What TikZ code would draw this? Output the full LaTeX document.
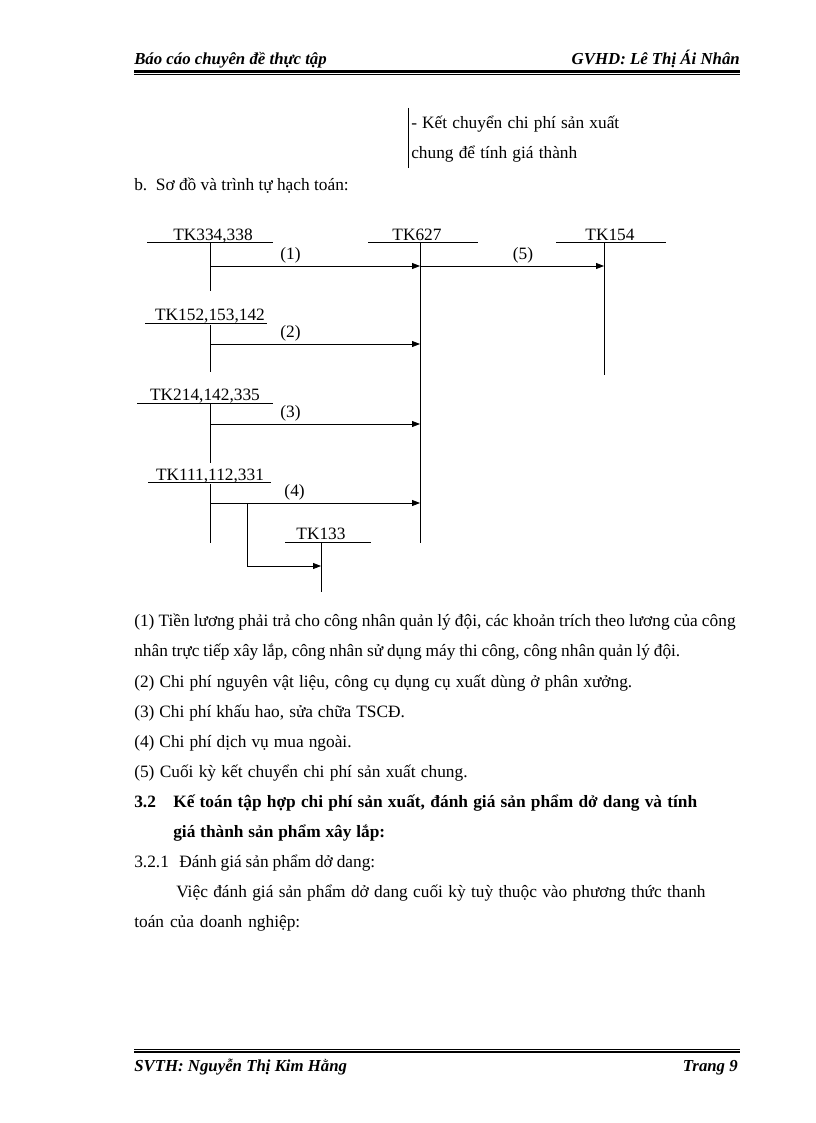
\documentclass[tikz,border=0pt]{standalone}
\usepackage{fontspec}
\setmainfont{Liberation Serif}
\usetikzlibrary{arrows.meta}
\newcommand{\fitw}[2]{\makebox[#1][s]{#2}}
\begin{document}
\begin{tikzpicture}[x=0.75pt,y=-0.75pt,
  font=\fontsize{13}{15}\selectfont,
  ln/.style={line width=0.6pt},
  arr/.style={line width=0.6pt,-{Triangle[length=6pt,width=4.5pt]}},
  txt/.style={anchor=base west,inner sep=0pt},
  lbl/.style={anchor=base,inner sep=0pt},
  num/.style={above=2pt,inner sep=0pt},
  hdr/.style={anchor=base west,inner sep=0pt,font=\fontsize{12.6}{14}\selectfont\bfseries\itshape},
  bld/.style={anchor=base west,inner sep=0pt,font=\fontsize{13}{15}\selectfont\bfseries}]
\useasboundingbox (0,0) rectangle (816,1123);
\fill[white] (0,0) rectangle (816,1123);
% header
\node[hdr] (h1) at (134,65) {Báo cáo chuyên đề thực tập};
\node[hdr,anchor=base east] (h2) at (740,65) {GVHD: Lê Thị Ái Nhân};
\draw[line width=1.6pt] (134,71.5) -- (740,71.5);
\draw[line width=0.5pt] (134,74.5) -- (740,74.5);
% footer
\draw[line width=0.5pt] (134,1049.5) -- (740,1049.5);
\draw[line width=1.6pt] (134,1052.2) -- (740,1052.2);
\node[hdr] (f1) at (134,1071) {SVTH: Nguyễn Thị Kim Hằng};
\node[hdr,anchor=base east] (f2) at (738,1071) {Trang 9};
% top fragment
\draw[ln] (408,108) -- (408,168);
\node[txt] (t1) at (411,129) {\fitw{156pt}{- Kết chuyển chi phí sản xuất}};
\node[txt] (t2) at (411,159) {\fitw{124.5pt}{chung để tính giá thành}};
\node[txt] (t3) at (134,191) {b.\ \ Sơ đồ và trình tự hạch toán:};
% T-accounts
\node[lbl] (n334) at (213,240) {TK334,338};
\draw[ln] (147,242) -- (273,242);
\draw[ln] (210,243) -- (210,291);
\node[lbl] (n627) at (417,240) {TK627};
\draw[ln] (368,242) -- (478,242);
\draw[ln] (420,243) -- (420,543);
\node[lbl] (n154) at (610,240) {TK154};
\draw[ln] (556,242) -- (666,242);
\draw[ln] (604,243) -- (604,375);
\node[lbl] (n152) at (210,320) {TK152,153,142};
\draw[ln] (145,323) -- (267,323);
\draw[ln] (210,325) -- (210,372);
\node[lbl] (n214) at (205,400) {TK214,142,335};
\draw[ln] (137,403) -- (273,403);
\draw[ln] (210,404) -- (210,463);
\node[lbl] (n111) at (210,480) {TK111,112,331};
\draw[ln] (148,482) -- (271,482);
\draw[ln] (210,484) -- (210,543);
\node[lbl] (n133) at (321,539) {TK133};
\draw[ln] (285,542) -- (371,542);
\draw[ln] (321,543) -- (321,592);
% connector coordinates
\coordinate (a1s) at (211,266);
\coordinate (a1e) at (420,266);
\coordinate (a5e) at (604,266);
\coordinate (a2s) at (211,344);
\coordinate (a2e) at (420,344);
\coordinate (a3s) at (211,424);
\coordinate (a3e) at (420,424);
\coordinate (a4s) at (211,503);
\coordinate (a4e) at (420,503);
\coordinate (b1) at (247,503);
\coordinate (b2) at (247,566);
\coordinate (b3) at (321,566);
% connectors
\draw[arr] (a1s) -- node[num,pos=0.38] (l1) {(1)} (a1e);
\draw[arr] (a1e) -- node[num,pos=0.56] (l5) {(5)} (a5e);
\draw[arr] (a2s) -- node[num,pos=0.38] (l2) {(2)} (a2e);
\draw[arr] (a3s) -- node[num,pos=0.38] (l3) {(3)} (a3e);
\draw[arr] (a4s) -- node[num,pos=0.40] (l4) {(4)} (a4e);
\draw[ln] (b1) -- (b2);
\draw[arr] (b2) -- (b3);
% explanations
\node[txt] (e1) at (134,626) {\fitw{451pt}{(1) Tiền lương phải trả cho công nhân quản lý đội, các khoản trích theo lương của công}};
\node[txt] (e2) at (134,656) {\fitw{409.5pt}{nhân trực tiếp xây lắp, công nhân sử dụng máy thi công, công nhân quản lý đội.}};
\node[txt] (e3) at (134,687) {\fitw{373.5pt}{(2) Chi phí nguyên vật liệu, công cụ dụng cụ xuất dùng ở phân xưởng.}};
\node[txt] (e4) at (134,717) {\fitw{203pt}{(3) Chi phí khấu hao, sửa chữa TSCĐ.}};
\node[txt] (e5) at (134,747) {\fitw{163pt}{(4) Chi phí dịch vụ mua ngoài.}};
\node[txt] (e6) at (134,777) {\fitw{250pt}{(5) Cuối kỳ kết chuyển chi phí sản xuất chung.}};
\node[bld] (s1) at (134,807) {3.2};
\node[bld] (s2) at (173,807) {\fitw{393pt}{Kế toán tập hợp chi phí sản xuất, đánh giá sản phẩm dở dang và tính}};
\node[bld] (s3) at (173,837) {\fitw{159pt}{giá thành sản phẩm xây lắp:}};
\node[txt] (s4) at (134,867) {3.2.1};
\node[txt] (s5) at (179,867) {\fitw{147pt}{Đánh giá sản phẩm dở dang:}};
\node[txt] (s6) at (176,897) {\fitw{397pt}{Việc đánh giá sản phẩm dở dang cuối kỳ tuỳ thuộc vào phương thức thanh}};
\node[txt] (s7) at (134,927) {\fitw{124.5pt}{toán của doanh nghiệp:}};
\end{tikzpicture}
\end{document}
